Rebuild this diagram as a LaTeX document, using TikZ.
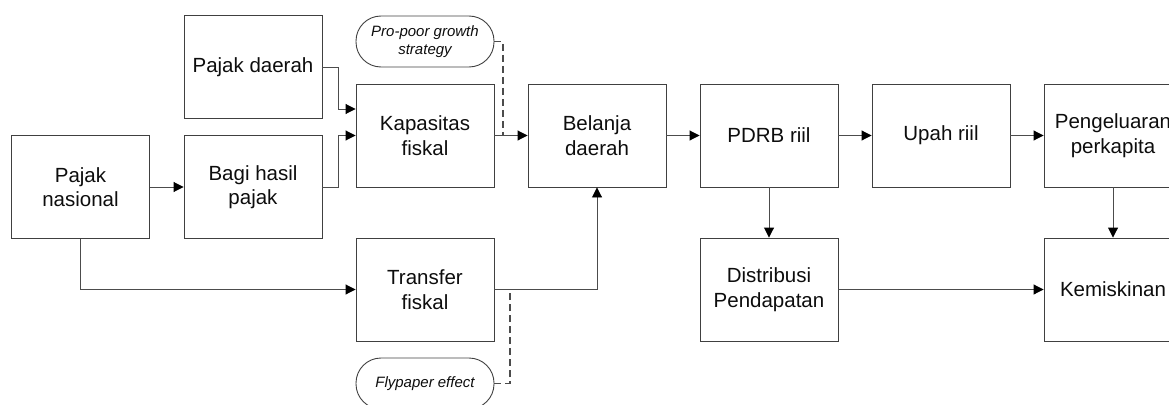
\documentclass[tikz,border=0pt]{standalone}
\usepackage{fontspec}
\setmainfont{Liberation Sans}
\usetikzlibrary{arrows.meta}
\begin{document}
\begin{tikzpicture}[x=1pt,y=-1pt,
  box/.style={draw=black!75, line width=0.9pt, minimum width=138pt, minimum height=103pt,
    inner sep=2pt, align=center, text=black!95,
    font=\fontsize{20.5pt}{24.6pt}\selectfont},
  pill/.style={draw=black!75, line width=0.9pt, minimum width=138pt, minimum height=51pt,
    rounded corners=25pt, inner sep=2pt, align=center, text=black!95,
    font=\fontsize{15pt}{18.5pt}\selectfont\itshape},
  link/.style={draw=black!70, line width=0.9pt},
  arr/.style={link, -{Triangle[length=10pt,width=10pt,color=black]}},
  hint/.style={draw=black!70, line width=1.2pt, dash pattern=on 7pt off 4pt}]
\useasboundingbox (0,0) rectangle (1169,404);
\clip (0,0) rectangle (1169,404);

% boxes
\node[box] (pd)   at (253,67)     {Pajak daerah};
\node[box] (pn)   at (80.5,187)   {Pajak\\nasional};
\node[box] (bh)   at (253,187)    {Bagi hasil\\pajak};
\node[box] (kf)   at (425,135.5)  {Kapasitas\\fiskal};
\node[box] (bd)   at (597,135.5)  {Belanja\\daerah};
\node[box] (pdrb) at (769,135.5)  {PDRB riil};
\node[box] (upah) at (941,135.5)  {Upah riil};
\node[box] (peng) at (1113,135.5) {Pengeluaran\\perkapita};
\node[box] (tf)   at (425,289.5)  {Transfer\\fiskal};
\node[box] (dist) at (769,289.5)  {Distribusi\\Pendapatan};
\node[box] (kem)  at (1113,289.5) {Kemiskinan};

% moderating notes
\node[pill] (pro) at (425,41.5)  {Pro-poor growth\\strategy};
\node[pill] (fly) at (425,383.5) {Flypaper effect};

% junctions of the dashed notes
\coordinate (j1) at (503,135.5);
\coordinate (j2) at (510,289.5);

% flows
\draw[arr] (pd.east) -- ++(16,0) |- ([yshift=26.5pt]kf.west);
\draw[arr] (bh.east) -- ++(16,0) |- (kf.west);
\draw[arr] (pn.east) -- (bh.west);
\draw[arr] (pn.south) |- (tf.west);
\draw[arr] (kf.east) -- (bd.west);
\draw[arr] (tf.east) -| (bd.south);
\draw[arr] (bd.east) -- (pdrb.west);
\draw[arr] (pdrb.east) -- (upah.west);
\draw[arr] (upah.east) -- (peng.west);
\draw[arr] (pdrb.south) -- (dist.north);
\draw[arr] (peng.south) -- (kem.north);
\draw[arr] (dist.east) -- (kem.west);

% dashed influences
\draw[hint] (pro.east) -- (pro.east -| j1) -- (j1);
\draw[hint] (fly.east) -- (fly.east -| j2) -- (j2);
\end{tikzpicture}
\end{document}
